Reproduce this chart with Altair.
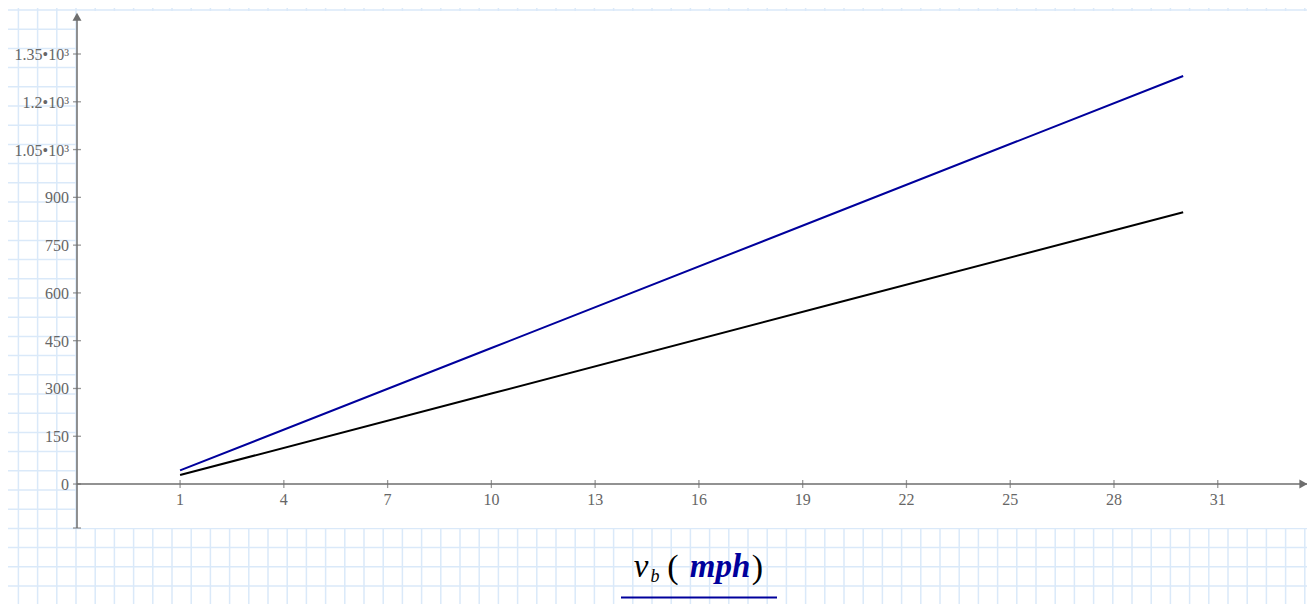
import altair as alt
import pandas as pd

# ---------------- data ----------------
series_names = ["blue", "black"]
x_values = [1, 10, 20, 30]
blue_values = [42.7, 427, 854, 1281]
black_values = [28.4, 284, 569, 853]

x_tick_values = [1, 4, 7, 10, 13, 16, 19, 22, 25, 28, 31]
y_tick_values = [0, 150, 300, 450, 600, 750, 900, 1050, 1200, 1350]

x_domain = [-1.98, 33.58]
y_domain = [-138, 1485]

# ---------------- layout / style ----------------
W, H = 1230, 517
PAD = {"left": 69, "top": 3, "right": 0, "bottom": 76}
GRID = "#dae9f9"
AX = "#6e6e6e"
LBL = "#666666"
FONT = "Liberation Serif"
NAVY = "#00009c"

rows = []
for name, vals in zip(series_names, [blue_values, black_values]):
    for xv, yv in zip(x_values, vals):
        rows.append({"x": xv, "y": yv, "series": name})
df = pd.DataFrame(rows)
one = pd.DataFrame({"a": [0]})

x_scale = alt.Scale(domain=x_domain, nice=False, zero=False)
y_scale = alt.Scale(domain=y_domain, nice=False, zero=False)

# background grid paper (decoration, pixel space)
vgrid = (
    alt.Chart(alt.sequence(-3, 65, as_="k"))
    .transform_calculate(px="-1 + 19.2*datum.k")
    .mark_rule(color=GRID, strokeWidth=1.5)
    .encode(x=alt.X("px:Q", scale=None, axis=None), y=alt.value(-PAD["top"]), y2=alt.value(H + PAD["bottom"]))
)
hgrid = (
    alt.Chart(alt.sequence(0, 31, as_="k"))
    .transform_calculate(py="-1 + 19.2*datum.k")
    .mark_rule(color=GRID, strokeWidth=1.5)
    .encode(y=alt.Y("py:Q", scale=None, axis=None), x=alt.value(-PAD["left"]), x2=alt.value(W))
)
white = alt.Chart(one).mark_rect(color="white").encode(
    x=alt.value(0), x2=alt.value(W), y=alt.value(0), y2=alt.value(H)
)

lines = alt.Chart(df).mark_line(strokeWidth=2).encode(
    x=alt.X("x:Q", scale=x_scale, axis=None),
    y=alt.Y("y:Q", scale=y_scale, axis=None),
    color=alt.Color("series:N", scale=alt.Scale(domain=series_names, range=[NAVY, "#000000"]), legend=None),
)

# axis lines
y_axis_line = alt.Chart(one).mark_rule(color=AX, strokeWidth=1.5).encode(
    x=alt.value(0), y=alt.value(4), y2=alt.value(H)
)
x_axis_line = alt.Chart(one).mark_rule(color=AX, strokeWidth=1.5).encode(
    y=alt.YDatum(0, scale=y_scale, axis=None), x=alt.value(0), x2=alt.value(W)
)

xticks = alt.Chart(pd.DataFrame({"t": x_tick_values})).mark_tick(
    orient="vertical", size=8, thickness=1.3, color=AX
).encode(x=alt.X("t:Q", scale=x_scale, axis=None), y=alt.YDatum(0, scale=y_scale, axis=None))

yticks = alt.Chart(pd.DataFrame({"t": y_tick_values + [y_domain[0]]})).mark_tick(
    orient="horizontal", size=8, thickness=1.3, color=AX
).encode(y=alt.Y("t:Q", scale=y_scale, axis=None), x=alt.value(0))

xlabels = alt.Chart(pd.DataFrame({"t": x_tick_values})).transform_calculate(
    lab="datum.t + ''"
).mark_text(font=FONT, fontSize=16, color=LBL, align="center", baseline="alphabetic", dy=21).encode(
    x=alt.X("t:Q", scale=x_scale, axis=None), y=alt.YDatum(0, scale=y_scale, axis=None), text="lab:N"
)

ylabels = alt.Chart(pd.DataFrame({"t": y_tick_values})).transform_calculate(
    lab="datum.t >= 1000 ? (datum.t/1000) + '\u2022' + '10\u00b3' : datum.t + ''"
).mark_text(font=FONT, fontSize=16, color=LBL, align="right", baseline="alphabetic", dy=6).encode(
    y=alt.Y("t:Q", scale=y_scale, axis=None), x=alt.value(-8), text="lab:N"
)

y_arrow = alt.Chart(one).mark_point(
    shape="M0,-1 L1,0.8 L-1,0.8 Z", size=81, filled=True, color=AX, opacity=1
).encode(x=alt.value(0), y=alt.value(6.2))
x_arrow = alt.Chart(one).mark_point(
    shape="M1,0 L-0.8,-1 L-0.8,1 Z", size=81, filled=True, color=AX, opacity=1
).encode(x=alt.value(W - 4), y=alt.YDatum(0, scale=y_scale, axis=None))

def label(txt, cx, by, size, style="normal", weight="normal", color="black"):
    return alt.Chart(one).mark_text(
        text=txt, font=FONT, fontSize=size, fontStyle=style, fontWeight=weight,
        color=color, align="center", baseline="alphabetic",
    ).encode(x=alt.value(cx), y=alt.value(by))

t_v = label("v", 564, 566, 33, style="italic")
t_b = label("b", 578, 571, 18, style="italic")
t_l = label("(", 596, 567, 34)
t_m = label("mph", 643, 566, 33, style="italic", weight="bold", color=NAVY)
t_r = label(")", 680.5, 567, 34)
uline = alt.Chart(one).mark_rule(color=NAVY, strokeWidth=2).encode(
    x=alt.value(544), x2=alt.value(700), y=alt.value(586.5)
)

chart = (
    alt.layer(vgrid, hgrid, white, lines, y_axis_line, x_axis_line, xticks, yticks,
              xlabels, ylabels, y_arrow, x_arrow, t_v, t_b, t_l, t_m, t_r, uline)
    .properties(width=W, height=H, padding=PAD, autosize=alt.AutoSizeParams(type="none"),
                background="white")
    .configure_view(stroke=None)
)

chart.save("out.html", embed_options={"renderer": "svg", "actions": False})
